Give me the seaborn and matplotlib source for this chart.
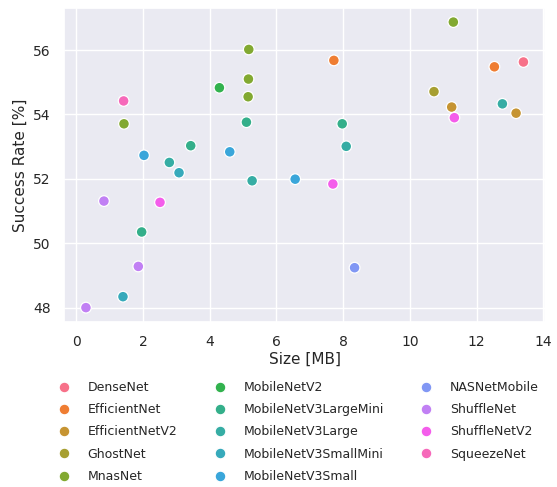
import pandas as pd
import seaborn as sns
import matplotlib.pyplot as plt

modelos = ['DenseNet', 'EfficientNet', 'EfficientNetV2', 'GhostNet', 'MnasNet',
           'MobileNetV2', 'MobileNetV3LargeMini', 'MobileNetV3Large',
           'MobileNetV3SmallMini', 'MobileNetV3Small', 'NASNetMobile',
           'ShuffleNet', 'ShuffleNetV2', 'SqueezeNet']

modelo = ['DenseNet',
          'EfficientNet', 'EfficientNet',
          'EfficientNetV2', 'EfficientNetV2',
          'GhostNet',
          'MnasNet', 'MnasNet', 'MnasNet', 'MnasNet', 'MnasNet',
          'MobileNetV2',
          'MobileNetV3LargeMini', 'MobileNetV3LargeMini', 'MobileNetV3LargeMini', 'MobileNetV3LargeMini',
          'MobileNetV3Large', 'MobileNetV3Large', 'MobileNetV3Large', 'MobileNetV3Large',
          'MobileNetV3SmallMini', 'MobileNetV3SmallMini',
          'MobileNetV3Small', 'MobileNetV3Small', 'MobileNetV3Small',
          'NASNetMobile',
          'ShuffleNet', 'ShuffleNet', 'ShuffleNet',
          'ShuffleNetV2', 'ShuffleNetV2', 'ShuffleNetV2',
          'SqueezeNet']

tamanho = [13.40,
           7.72, 12.53,
           11.25, 13.18,
           10.72,
           11.30, 5.17, 5.16, 5.15, 1.43,
           4.29,
           5.10, 3.43, 7.97, 1.96,
           2.79, 5.27, 8.09, 12.77,
           3.08, 1.40,
           2.03, 4.60, 6.56,
           8.34,
           0.83, 1.86, 0.29,
           2.51, 7.69, 11.33,
           1.42]

sucesso = [55.63,
           55.68, 55.48,
           54.23, 54.04,
           54.71,
           56.87, 56.02, 55.10, 54.55, 53.71,
           54.83,
           53.76, 53.03, 53.71, 50.35,
           52.51, 51.94, 53.01, 54.33,
           52.19, 48.34,
           52.73, 52.84, 51.99,
           49.24,
           51.31, 49.28, 48.00,
           51.27, 51.84, 53.90,
           54.42]

tabela = pd.DataFrame({'Modelo': modelo, 'Size [MB]': tamanho, 'Success Rate [%]': sucesso})
tabela['Modelo'] = pd.Categorical(tabela['Modelo'], categories=modelos)

sns.set_theme(style='darkgrid')

fig = plt.figure(figsize=(5.57, 4.87), dpi=100)
ax = fig.add_axes([0.115, 0.339, 0.864, 0.645])

sns.scatterplot(
    data=tabela,
    x='Size [MB]',
    y='Success Rate [%]',
    hue='Modelo',
    palette=sns.color_palette('husl', len(modelos)),
    s=60,
    edgecolor='white',
    linewidth=0.9,
    ax=ax
)

ax.set_xticks(range(0, 15, 2))
ax.set_yticks(range(48, 57, 2))
ax.tick_params(labelsize=10)
ax.set_xlabel('Size [MB]', fontsize=11, labelpad=2)
ax.set_ylabel('Success Rate [%]', fontsize=11)

handles, labels = ax.get_legend_handles_labels()
ax.legend(handles, labels, loc='upper left', bbox_to_anchor=(-0.05, -0.152),
          ncol=3, frameon=False, fontsize=9, handletextpad=0.9,
          columnspacing=2.4, labelspacing=0.74)

plt.savefig('out.png', format='png')
plt.close()
